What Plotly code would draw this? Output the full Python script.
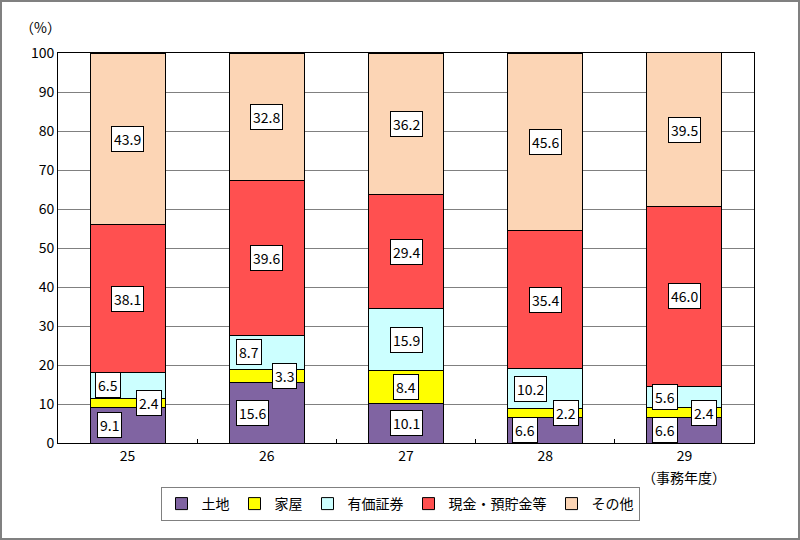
import plotly.graph_objects as go

categories = ["25", "26", "27", "28", "29"]
series_names = ["土地", "家屋", "有価証券", "現金・預貯金等", "その他"]
land = [9.1, 15.6, 10.1, 6.6, 6.6]
house = [2.4, 3.3, 8.4, 2.2, 2.4]
securities = [6.5, 8.7, 15.9, 10.2, 5.6]
cash = [38.1, 39.6, 29.4, 35.4, 46.0]
other = [43.9, 32.8, 36.2, 45.6, 39.5]
y_ticks = [0, 10, 20, 30, 40, 50, 60, 70, 80, 90, 100]

colors = ["#8064A2", "#FFFF00", "#CCFFFF", "#FF5050", "#FCD5B5"]
series = [land, house, securities, cash, other]
# horizontal label shifts (px) per series per category
shifts = [
    [-18, -14, 0, -20, -19],
    [21, 18, 0, 21, 20],
    [-20, -18, 0, -15, -19],
    [0, 0, 0, 0, 0],
    [0, 0, 0, 0, 0],
]

FONT = "Noto Sans CJK JP"
fig = go.Figure()
for name, vals, c in zip(series_names, series, colors):
    fig.add_trace(go.Bar(
        x=categories, y=vals, name=name,
        marker=dict(color=c, line=dict(color="#000000", width=1)),
    ))

annotations = []
base = [0.0] * len(categories)
for si, vals in enumerate(series):
    for ci, v in enumerate(vals):
        mid = base[ci] + v / 2
        annotations.append(dict(
            x=ci, y=mid, xref="x", yref="y", text=f"{v:.1f}", showarrow=False,
            xshift=shifts[si][ci], bgcolor="#FFFFFF", bordercolor="#000000", borderwidth=1, borderpad=2,
            font=dict(size=14, color="#000000", family=FONT),
        ))
        base[ci] += v

W, H = 800, 540
ml, mr, mt, mb = 58, 46, 53, 97
pw, ph = W - ml - mr, H - mt - mb

def px_x(x):
    return (x - ml) / pw

def px_y(y):
    return (H - mb - y) / ph

annotations.append(dict(x=px_x(40), y=px_y(27), xref="paper", yref="paper", text="（%）", showarrow=False,
                        xanchor="center", yanchor="middle",
                        font=dict(size=14, color="#000000", family=FONT)))
annotations.append(dict(x=4, y=px_y(477), xref="x", yref="paper", text="（事務年度）", showarrow=False,
                        xanchor="center", yanchor="middle",
                        font=dict(size=14, color="#000000", family=FONT)))

shapes = [dict(type="rect", xref="paper", yref="paper",
               x0=px_x(1), x1=px_x(W - 1), y0=px_y(H - 1), y1=px_y(1),
               line=dict(color="#808080", width=2), fillcolor="rgba(0,0,0,0)", layer="below")]

fig.update_layout(
    barmode="stack", bargap=0.46, width=W, height=H,
    margin=dict(l=ml, r=mr, t=mt, b=mb),
    paper_bgcolor="#FFFFFF", plot_bgcolor="#FFFFFF",
    font=dict(family=FONT, size=14, color="#000000"),
    xaxis=dict(type="category", range=[-0.5, 4.5], showline=True, linecolor="#000000", linewidth=1, mirror=True,
               ticks="inside", tickson="boundaries", ticklen=4, tickcolor="#000000", showgrid=False,
               tickangle=0),
    yaxis=dict(range=[0, 100], tickvals=y_ticks, showline=True, linecolor="#000000", linewidth=1, mirror=True,
               gridcolor="#808080", gridwidth=1, ticks="", zeroline=False),
    legend=dict(orientation="h", x=px_x(400), xanchor="center", y=px_y(487), yanchor="top",
                bordercolor="#808080", borderwidth=1, font=dict(size=14, family=FONT), traceorder="normal",
                itemwidth=30),
    annotations=annotations, shapes=shapes, showlegend=True,
)
fig.write_html("out.html", config={"displayModeBar": False},
               post_script="document.body.style.margin='0';")
